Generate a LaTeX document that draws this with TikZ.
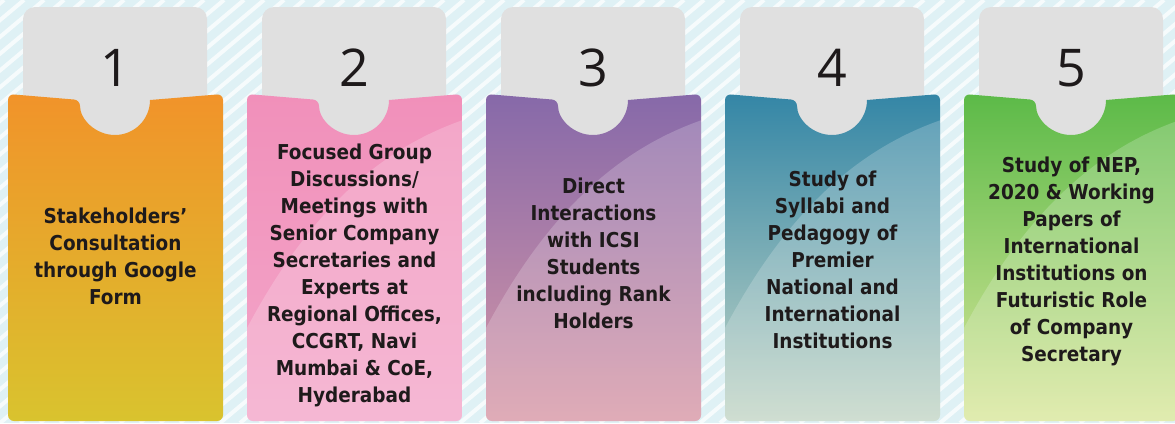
\documentclass[tikz,border=0pt]{standalone}
\usepackage{fontspec}
\setmainfont{DejaVu Sans}[FakeStretch=0.9]
\newfontfamily\numfont{Open Sans}
\definecolor{bgc}{HTML}{DFF1F5}
\definecolor{tabc}{HTML}{E0E0E0}
\definecolor{txtc}{HTML}{1E1A1B}
\definecolor{aT}{HTML}{F1932A}\definecolor{aB}{HTML}{D9C32E}
\definecolor{bT}{HTML}{F190BA}\definecolor{bB}{HTML}{F3A6C9}
\definecolor{cT}{HTML}{8669A9}\definecolor{cM}{HTML}{A9729E}\definecolor{cB}{HTML}{D897A6}
\definecolor{dT}{HTML}{3486A6}\definecolor{dM}{HTML}{78A5B4}\definecolor{dB}{HTML}{C4D6C6}
\definecolor{eT}{HTML}{5CBA48}\definecolor{eM}{HTML}{9CCF6A}\definecolor{eB}{HTML}{DAE79C}
\tikzset{
  stripe/.style={white, line width=4pt, opacity=0.75},
  tabbox/.style={fill=tabc, rounded corners=12pt},
  numlabel/.style={font=\numfont\fontsize{52}{52}\selectfont, text=txtc, anchor=base, inner sep=0pt},
  cardtext/.style={font=\bfseries\fontsize{20.5}{27}\selectfont, text=txtc, align=center, inner sep=0pt},
  overlay/.style={white, opacity=0.2}
}
\newcommand\pocketshape[1]{%
  [rounded corners=6pt] (#1,421) -- (#1,94) -- (#1+72,100) [rounded corners=0pt]
  arc[start angle=180, end angle=0, x radius=35, y radius=35]
  [rounded corners=6pt] -- (#1+215,94) -- (#1+215,421) -- cycle}
\newcommand\card[6]{% #1 x, #2 top color, #3 middle color, #4 bottom color, #5 number, #6 overlay (1/0)
  \fill[tabbox] (#1+15,150) rectangle (#1+199,7);
  \node[numlabel] (num#5) at (#1+107.5,86) {#5};
  \shade[top color=#2, middle color=#3, bottom color=#4] \pocketshape{#1};
  \ifnum#6=1
  \begin{scope}
    \clip \pocketshape{#1};
    \fill[overlay] (#1,328) .. controls (#1+60,215) and (#1+130,150) .. (#1+216,120) -- (#1+216,425) -- (#1,425) -- cycle;
  \end{scope}
  \fi
}
\begin{document}
\begin{tikzpicture}[x=1pt,y=-1pt]
\useasboundingbox (0,0) rectangle (1175,423);
\fill[bgc] (0,0) rectangle (1175,423);
\begin{scope}
  \clip (0,0) rectangle (1175,423);
  \foreach \i in {-30,...,62} \draw[stripe] (\i*20,423) -- ++(504,-423);
\end{scope}
\card{8}{aT}{aT!50!aB}{aB}{1}{0}
\card{247}{bT}{bT!50!bB}{bB}{2}{1}
\card{486}{cT}{cM}{cB}{3}{1}
\card{725}{dT}{dM}{dB}{4}{1}
\card{964}{eT}{eM}{eB}{5}{1}
\node[cardtext] (t1) at (115.5,256) {Stakeholders’\\Consultation\\through Google\\Form};
\node[cardtext] (t2) at (354.5,275) {Focused Group\\Discussions/\\Meetings with\\Senior Company\\Secretaries and\\Experts at\\Regional Offices,\\CCGRT, Navi\\Mumbai \& CoE,\\Hyderabad};
\node[cardtext] (t3) at (593.5,253) {Direct\\Interactions\\with ICSI\\Students\\including Rank\\Holders};
\node[cardtext] (t4) at (832.5,260) {Study of\\Syllabi and\\Pedagogy of\\Premier\\National and\\International\\Institutions};
\node[cardtext] (t5) at (1071.5,261) {Study of NEP,\\2020 \& Working\\Papers of\\International\\Institutions on\\Futuristic Role\\of Company\\Secretary};
\end{tikzpicture}
\end{document}
